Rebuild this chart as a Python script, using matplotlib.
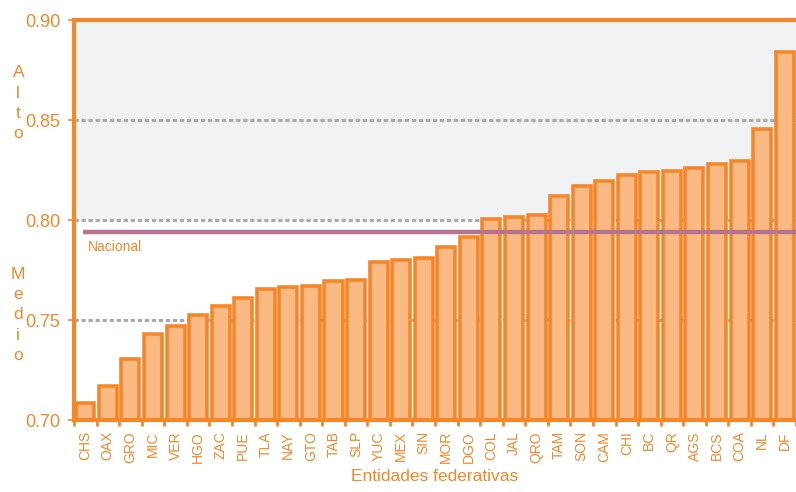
import matplotlib
matplotlib.use('Agg')
import matplotlib.pyplot as plt
import numpy as np

plt.rcParams['font.family'] = ['Liberation Sans', 'DejaVu Sans']

# Entidades federativas, ordenadas de menor a mayor
entidades = ['CHS', 'OAX', 'GRO', 'MIC', 'VER', 'HGO', 'ZAC', 'PUE', 'TLA', 'NAY',
             'GTO', 'TAB', 'SLP', 'YUC', 'MEX', 'SIN', 'MOR', 'DGO', 'COL', 'JAL',
             'QRO', 'TAM', 'SON', 'CAM', 'CHI', 'BC', 'QR', 'AGS', 'BCS', 'COA',
             'NL', 'DF']
valores = [0.7084, 0.7171, 0.7306, 0.7431, 0.7469, 0.7523, 0.7571, 0.7609, 0.7653, 0.7663,
           0.7669, 0.7696, 0.7700, 0.7788, 0.7798, 0.7808, 0.7863, 0.7914, 0.8006, 0.8013,
           0.8024, 0.8121, 0.8171, 0.8197, 0.8226, 0.8239, 0.8246, 0.8258, 0.8278, 0.8293,
           0.8454, 0.8838]
nacional = 0.7942
yticks = [0.70, 0.75, 0.80, 0.85, 0.90]
lineas_ref = [0.75, 0.80, 0.85]

naranja = '#f5872b'
relleno = '#fbba84'
gris = '#a9aaac'
fondo_alto = '#f1f2f4'
morado = '#b7748f'

fig = plt.figure(figsize=(7.96, 4.92), dpi=100)
ax = fig.add_axes([0.093, 0.1463, 0.907, 0.813])

x = np.arange(len(entidades))
base = yticks[0]

# zona "Alto" sombreada
ax.axhspan(0.80, yticks[-1], color=fondo_alto, zorder=0, lw=0)
for y in lineas_ref:
    ax.axhline(y, color=gris, lw=2.2, ls=(0, (1.4, 0.9)), zorder=1)

ax.bar(x, np.array(valores) - base, bottom=base, width=0.8,
       color=relleno, edgecolor=naranja, linewidth=2.6, zorder=2)

# promedio nacional
ax.hlines(nacional, -0.1, len(entidades) - 0.5, color=morado, lw=3.2, zorder=3)
ax.text(0.12, nacional - 0.0075, 'Nacional', color=naranja, fontsize=10,
        va='center', ha='left', zorder=4)

ax.set_xlim(-0.5, len(entidades) - 0.5)
ax.set_ylim(yticks[0], yticks[-1])
ax.set_yticks(yticks)
ax.set_yticklabels([f'{v:.2f}' for v in yticks], fontsize=13, color=naranja)
ax.set_xticks(x)
ax.set_xticklabels(entidades, rotation=90, fontsize=10, color=naranja)
ax.set_xticks(np.arange(len(entidades) + 1) - 0.5, minor=True)
ax.tick_params(axis='x', which='major', length=0, pad=8)
ax.tick_params(axis='x', which='minor', length=4, width=2, color=naranja)
ax.tick_params(axis='y', length=4, width=1.2, color=naranja, pad=6)

for lado in ['left', 'top', 'bottom']:
    ax.spines[lado].set_color(naranja)
    ax.spines[lado].set_linewidth(3)
ax.spines['right'].set_visible(False)

ax.set_xlabel('Entidades federativas', color=naranja, fontsize=12.5, labelpad=4)

fig.text(0.023, 0.79, 'A\nl\nt\no', color=naranja, fontsize=12.5, ha='center',
         va='center', linespacing=1.45)
fig.text(0.023, 0.36, 'M\ne\nd\ni\no', color=naranja, fontsize=12.5, ha='center',
         va='center', linespacing=1.45)

fig.savefig('out.png', dpi=100)
